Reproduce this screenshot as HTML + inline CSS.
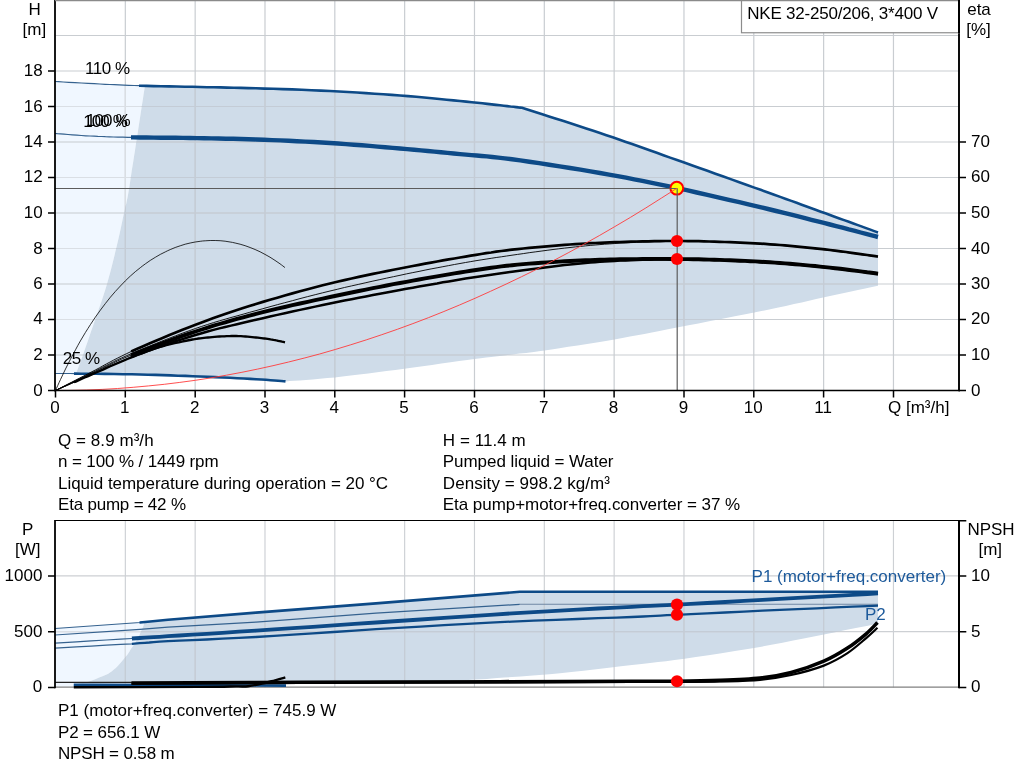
<!DOCTYPE html>
<html lang="en">
<head>
<meta charset="utf-8">
<title>NKE 32-250/206 pump curve</title>
<style>
html,body{margin:0;padding:0;background:#fff;}
body{width:1024px;height:781px;position:relative;overflow:hidden;font-family:"Liberation Sans",Arial,Helvetica,sans-serif;}
.t{position:absolute;white-space:nowrap;font-size:17px;line-height:20px;color:#000;}
</style>
</head>
<body>
<svg width="1024" height="781" viewBox="0 0 1024 781" style="position:absolute;left:0;top:0">
<rect width="1024" height="781" fill="#fff"/>
<defs><clipPath id="cl1"><path d="M55 81.5 L58.5 81.7 L63.2 82 L68.8 82.3 L75 82.6 L81.5 83 L88 83.4 L94.3 83.7 L100 84 L105.1 84.3 L109.9 84.5 L114.5 84.7 L119.1 84.9 L123.8 85.1 L128.7 85.3 L134.1 85.5 L140 85.7 L145 85.8 L145 85.8 L144.6 88.2 L144.1 91.3 L143.5 95.1 L142.9 99.2 L142.2 103.6 L141.5 108 L140.8 112.5 L140.1 117.3 L139.3 122.4 L138.5 127.5 L137.8 132.6 L137 137.5 L136.2 142.3 L135.5 147.1 L134.8 151.8 L134 156.5 L133.3 161.2 L132.5 166 L131.7 170.9 L131 176 L130.2 181.2 L129.5 186.1 L128.7 190.8 L128 195 L127.3 198.5 L126.7 201.3 L126.2 203.8 L125.5 206.4 L124.8 209.3 L124 213 L123 217.4 L122 222.4 L120.9 227.7 L119.7 233.3 L118.4 239.1 L117 245 L115.5 251.1 L114 257.6 L112.3 264.2 L110.6 271 L108.8 277.6 L107 284 L105.1 290.2 L103.1 296.4 L101.1 302.4 L99 308.4 L97 314.3 L95 320 L93.1 325.7 L91.1 331.3 L89.2 336.9 L87.4 342.3 L85.6 347.3 L84 352 L82.4 356.5 L80.8 360.8 L79.3 364.8 L78 368.4 L76.8 371.4 L76 373.6 L76 373.6 L75 373.6 L70.2 373.5 L66.4 373.5 L63.3 373.5 L60.9 373.5 L59.1 373.5 L57.5 373.5 L56.2 373.5 L55 373.5Z"/></clipPath><clipPath id="cd1"><path d="M76 373.6 L76.8 371.4 L78 368.4 L79.3 364.8 L80.8 360.8 L82.4 356.5 L84 352 L85.6 347.3 L87.4 342.3 L89.2 336.9 L91.1 331.3 L93.1 325.7 L95 320 L97 314.3 L99 308.4 L101.1 302.4 L103.1 296.4 L105.1 290.2 L107 284 L108.8 277.6 L110.6 271 L112.3 264.2 L114 257.6 L115.5 251.1 L117 245 L118.4 239.1 L119.7 233.3 L120.9 227.7 L122 222.4 L123 217.4 L124 213 L124.8 209.3 L125.5 206.4 L126.2 203.8 L126.7 201.3 L127.3 198.5 L128 195 L128.7 190.8 L129.5 186.1 L130.2 181.2 L131 176 L131.7 170.9 L132.5 166 L133.3 161.2 L134 156.5 L134.8 151.8 L135.5 147.1 L136.2 142.3 L137 137.5 L137.8 132.6 L138.5 127.5 L139.3 122.4 L140.1 117.3 L140.8 112.5 L141.5 108 L142.2 103.6 L142.9 99.2 L143.5 95.1 L144.1 91.3 L144.6 88.2 L145 85.8 L145 85.8 L146.6 85.9 L153.7 86.1 L161.2 86.2 L169 86.4 L176.9 86.5 L184.8 86.7 L192.6 86.8 L200 87 L207.1 87.2 L213.9 87.3 L220.5 87.4 L227.1 87.6 L233.9 87.7 L240.8 87.9 L248.2 88.1 L256 88.3 L264.4 88.6 L273.3 88.8 L282.6 89.1 L292.1 89.4 L301.8 89.8 L311.4 90.2 L320.8 90.6 L330 91 L339 91.5 L348 92 L357 92.5 L365.9 93.1 L374.7 93.7 L383.3 94.3 L391.8 94.9 L400 95.5 L408.1 96.1 L416.2 96.8 L424.1 97.5 L431.9 98.3 L439.4 99 L446.6 99.7 L453.5 100.4 L460 101 L466.1 101.6 L471.8 102.2 L477.3 102.8 L482.4 103.3 L487.2 103.9 L491.7 104.4 L496 104.9 L500 105.3 L503.8 105.7 L507.3 106.1 L510.5 106.5 L513.5 106.8 L516.2 107.1 L518.5 107.4 L520.4 107.6 L522 107.8 L525.8 109 L530.5 110.5 L536 112.3 L542.3 114.3 L549 116.4 L556.2 118.7 L563.6 121.1 L571.2 123.5 L578.7 126 L586.2 128.4 L593.3 130.8 L600 133 L606.4 135.2 L612.7 137.3 L619 139.5 L625.2 141.7 L631.4 143.8 L637.7 146 L644 148.3 L650.3 150.5 L656.8 152.8 L663.4 155.2 L670.1 157.6 L677 160 L684.2 162.5 L691.7 165.2 L699.4 168 L707.4 170.8 L715.4 173.7 L723.4 176.5 L731.4 179.4 L739.3 182.2 L747 184.9 L754.3 187.6 L761.4 190.1 L768 192.5 L774.2 194.7 L780.2 196.9 L785.9 198.9 L791.3 200.9 L796.6 202.8 L801.7 204.7 L806.6 206.5 L811.4 208.2 L816.2 210 L820.8 211.7 L825.4 213.3 L830 215 L834.6 216.7 L839.4 218.4 L844.1 220.1 L848.8 221.8 L853.4 223.5 L857.9 225.1 L862.1 226.6 L866.1 228.1 L869.7 229.4 L872.9 230.6 L875.7 231.6 L878 232.4 L878 285.7 L878 285.7 L874.4 286.5 L869.7 287.5 L864.1 288.7 L857.9 290 L851.1 291.4 L844.1 292.9 L837 294.5 L830 296 L823.1 297.5 L816.2 299.1 L809 300.7 L801.7 302.4 L794 304.1 L785.9 305.9 L777.2 307.8 L768 309.7 L757.8 311.8 L746.6 314 L734.8 316.3 L722.5 318.7 L710.3 321.1 L698.4 323.4 L687.2 325.5 L677 327.5 L667.9 329.3 L659.5 330.9 L651.8 332.4 L644.4 333.9 L637.2 335.3 L629.9 336.6 L622.4 338 L614.4 339.4 L605.8 340.9 L596.6 342.4 L587.1 343.9 L577.6 345.4 L568.3 346.8 L559.5 348.2 L551.5 349.4 L544.5 350.4 L538.7 351.2 L533.9 351.9 L529.8 352.4 L526.2 352.9 L522.9 353.2 L519.6 353.6 L516.1 354 L512 354.5 L507.8 355 L503.7 355.5 L499.7 355.9 L495.5 356.4 L491.1 356.9 L486.2 357.5 L480.7 358.2 L474.4 359 L467.2 360 L459.1 361.1 L450.5 362.3 L441.3 363.6 L432 365 L422.6 366.3 L413.3 367.6 L404.3 368.8 L395.4 370 L386.4 371.1 L377.2 372.3 L368.2 373.5 L359.2 374.6 L350.6 375.6 L342.4 376.6 L334.7 377.4 L327.3 378.1 L319.9 378.8 L312.8 379.4 L306 379.9 L299.8 380.4 L294.3 380.8 L289.6 381.1 L286 381.4 L286 381.4 L283.9 381.2 L281.2 381 L278.1 380.8 L274.5 380.5 L270.5 380.2 L266 379.8 L261.2 379.5 L256 379.2 L250.3 378.9 L243.9 378.5 L237.1 378.2 L229.9 377.8 L222.4 377.5 L214.9 377.1 L207.4 376.8 L200 376.5 L192.7 376.2 L185.4 375.9 L178 375.7 L170.6 375.4 L163 375.1 L155.4 374.9 L147.8 374.7 L140 374.5 L131.8 374.3 L123 374.2 L114 374 L105 373.9 L96.3 373.8 L88.2 373.7 L81 373.7 L76 373.6Z"/></clipPath></defs>
<path d="M55 81.5 L58.5 81.7 L63.2 82 L68.8 82.3 L75 82.6 L81.5 83 L88 83.4 L94.3 83.7 L100 84 L105.1 84.3 L109.9 84.5 L114.5 84.7 L119.1 84.9 L123.8 85.1 L128.7 85.3 L134.1 85.5 L140 85.7 L145 85.8 L145 85.8 L144.6 88.2 L144.1 91.3 L143.5 95.1 L142.9 99.2 L142.2 103.6 L141.5 108 L140.8 112.5 L140.1 117.3 L139.3 122.4 L138.5 127.5 L137.8 132.6 L137 137.5 L136.2 142.3 L135.5 147.1 L134.8 151.8 L134 156.5 L133.3 161.2 L132.5 166 L131.7 170.9 L131 176 L130.2 181.2 L129.5 186.1 L128.7 190.8 L128 195 L127.3 198.5 L126.7 201.3 L126.2 203.8 L125.5 206.4 L124.8 209.3 L124 213 L123 217.4 L122 222.4 L120.9 227.7 L119.7 233.3 L118.4 239.1 L117 245 L115.5 251.1 L114 257.6 L112.3 264.2 L110.6 271 L108.8 277.6 L107 284 L105.1 290.2 L103.1 296.4 L101.1 302.4 L99 308.4 L97 314.3 L95 320 L93.1 325.7 L91.1 331.3 L89.2 336.9 L87.4 342.3 L85.6 347.3 L84 352 L82.4 356.5 L80.8 360.8 L79.3 364.8 L78 368.4 L76.8 371.4 L76 373.6 L76 373.6 L75 373.6 L70.2 373.5 L66.4 373.5 L63.3 373.5 L60.9 373.5 L59.1 373.5 L57.5 373.5 L56.2 373.5 L55 373.5Z" fill="#f0f7ff"/>
<path d="M76 373.6 L76.8 371.4 L78 368.4 L79.3 364.8 L80.8 360.8 L82.4 356.5 L84 352 L85.6 347.3 L87.4 342.3 L89.2 336.9 L91.1 331.3 L93.1 325.7 L95 320 L97 314.3 L99 308.4 L101.1 302.4 L103.1 296.4 L105.1 290.2 L107 284 L108.8 277.6 L110.6 271 L112.3 264.2 L114 257.6 L115.5 251.1 L117 245 L118.4 239.1 L119.7 233.3 L120.9 227.7 L122 222.4 L123 217.4 L124 213 L124.8 209.3 L125.5 206.4 L126.2 203.8 L126.7 201.3 L127.3 198.5 L128 195 L128.7 190.8 L129.5 186.1 L130.2 181.2 L131 176 L131.7 170.9 L132.5 166 L133.3 161.2 L134 156.5 L134.8 151.8 L135.5 147.1 L136.2 142.3 L137 137.5 L137.8 132.6 L138.5 127.5 L139.3 122.4 L140.1 117.3 L140.8 112.5 L141.5 108 L142.2 103.6 L142.9 99.2 L143.5 95.1 L144.1 91.3 L144.6 88.2 L145 85.8 L145 85.8 L146.6 85.9 L153.7 86.1 L161.2 86.2 L169 86.4 L176.9 86.5 L184.8 86.7 L192.6 86.8 L200 87 L207.1 87.2 L213.9 87.3 L220.5 87.4 L227.1 87.6 L233.9 87.7 L240.8 87.9 L248.2 88.1 L256 88.3 L264.4 88.6 L273.3 88.8 L282.6 89.1 L292.1 89.4 L301.8 89.8 L311.4 90.2 L320.8 90.6 L330 91 L339 91.5 L348 92 L357 92.5 L365.9 93.1 L374.7 93.7 L383.3 94.3 L391.8 94.9 L400 95.5 L408.1 96.1 L416.2 96.8 L424.1 97.5 L431.9 98.3 L439.4 99 L446.6 99.7 L453.5 100.4 L460 101 L466.1 101.6 L471.8 102.2 L477.3 102.8 L482.4 103.3 L487.2 103.9 L491.7 104.4 L496 104.9 L500 105.3 L503.8 105.7 L507.3 106.1 L510.5 106.5 L513.5 106.8 L516.2 107.1 L518.5 107.4 L520.4 107.6 L522 107.8 L525.8 109 L530.5 110.5 L536 112.3 L542.3 114.3 L549 116.4 L556.2 118.7 L563.6 121.1 L571.2 123.5 L578.7 126 L586.2 128.4 L593.3 130.8 L600 133 L606.4 135.2 L612.7 137.3 L619 139.5 L625.2 141.7 L631.4 143.8 L637.7 146 L644 148.3 L650.3 150.5 L656.8 152.8 L663.4 155.2 L670.1 157.6 L677 160 L684.2 162.5 L691.7 165.2 L699.4 168 L707.4 170.8 L715.4 173.7 L723.4 176.5 L731.4 179.4 L739.3 182.2 L747 184.9 L754.3 187.6 L761.4 190.1 L768 192.5 L774.2 194.7 L780.2 196.9 L785.9 198.9 L791.3 200.9 L796.6 202.8 L801.7 204.7 L806.6 206.5 L811.4 208.2 L816.2 210 L820.8 211.7 L825.4 213.3 L830 215 L834.6 216.7 L839.4 218.4 L844.1 220.1 L848.8 221.8 L853.4 223.5 L857.9 225.1 L862.1 226.6 L866.1 228.1 L869.7 229.4 L872.9 230.6 L875.7 231.6 L878 232.4 L878 285.7 L878 285.7 L874.4 286.5 L869.7 287.5 L864.1 288.7 L857.9 290 L851.1 291.4 L844.1 292.9 L837 294.5 L830 296 L823.1 297.5 L816.2 299.1 L809 300.7 L801.7 302.4 L794 304.1 L785.9 305.9 L777.2 307.8 L768 309.7 L757.8 311.8 L746.6 314 L734.8 316.3 L722.5 318.7 L710.3 321.1 L698.4 323.4 L687.2 325.5 L677 327.5 L667.9 329.3 L659.5 330.9 L651.8 332.4 L644.4 333.9 L637.2 335.3 L629.9 336.6 L622.4 338 L614.4 339.4 L605.8 340.9 L596.6 342.4 L587.1 343.9 L577.6 345.4 L568.3 346.8 L559.5 348.2 L551.5 349.4 L544.5 350.4 L538.7 351.2 L533.9 351.9 L529.8 352.4 L526.2 352.9 L522.9 353.2 L519.6 353.6 L516.1 354 L512 354.5 L507.8 355 L503.7 355.5 L499.7 355.9 L495.5 356.4 L491.1 356.9 L486.2 357.5 L480.7 358.2 L474.4 359 L467.2 360 L459.1 361.1 L450.5 362.3 L441.3 363.6 L432 365 L422.6 366.3 L413.3 367.6 L404.3 368.8 L395.4 370 L386.4 371.1 L377.2 372.3 L368.2 373.5 L359.2 374.6 L350.6 375.6 L342.4 376.6 L334.7 377.4 L327.3 378.1 L319.9 378.8 L312.8 379.4 L306 379.9 L299.8 380.4 L294.3 380.8 L289.6 381.1 L286 381.4 L286 381.4 L283.9 381.2 L281.2 381 L278.1 380.8 L274.5 380.5 L270.5 380.2 L266 379.8 L261.2 379.5 L256 379.2 L250.3 378.9 L243.9 378.5 L237.1 378.2 L229.9 377.8 L222.4 377.5 L214.9 377.1 L207.4 376.8 L200 376.5 L192.7 376.2 L185.4 375.9 L178 375.7 L170.6 375.4 L163 375.1 L155.4 374.9 L147.8 374.7 L140 374.5 L131.8 374.3 L123 374.2 L114 374 L105 373.9 L96.3 373.8 L88.2 373.7 L81 373.7 L76 373.6Z" fill="#cfdce9"/>
<path d="M125.33 0V390.5M195.16 0V390.5M264.99 0V390.5M334.82 0V390.5M404.65 0V390.5M474.48 0V390.5M544.31 0V390.5M614.14 0V390.5M683.97 0V390.5M753.80 0V390.5M823.63 0V390.5M893.46 0V390.5M55.5 355.00H959M55.5 319.50H959M55.5 284.00H959M55.5 248.50H959M55.5 213.00H959M55.5 177.50H959M55.5 142.00H959M55.5 106.50H959M55.5 71.00H959M55.5 35.50H959" stroke="#c9cdd1" stroke-width="1.2" fill="none"/>
<path d="M125.33 0V390.5M195.16 0V390.5M264.99 0V390.5M334.82 0V390.5M404.65 0V390.5M474.48 0V390.5M544.31 0V390.5M614.14 0V390.5M683.97 0V390.5M753.80 0V390.5M823.63 0V390.5M893.46 0V390.5M55.5 355.00H959M55.5 319.50H959M55.5 284.00H959M55.5 248.50H959M55.5 213.00H959M55.5 177.50H959M55.5 142.00H959M55.5 106.50H959M55.5 71.00H959M55.5 35.50H959" stroke="#dadfe5" stroke-width="1.2" fill="none" clip-path="url(#cl1)"/>
<path d="M125.33 0V390.5M195.16 0V390.5M264.99 0V390.5M334.82 0V390.5M404.65 0V390.5M474.48 0V390.5M544.31 0V390.5M614.14 0V390.5M683.97 0V390.5M753.80 0V390.5M823.63 0V390.5M893.46 0V390.5M55.5 355.00H959M55.5 319.50H959M55.5 284.00H959M55.5 248.50H959M55.5 213.00H959M55.5 177.50H959M55.5 142.00H959M55.5 106.50H959M55.5 71.00H959M55.5 35.50H959" stroke="#c4ccd6" stroke-width="1.2" fill="none" clip-path="url(#cd1)"/>
<path d="M55 81.5 L58.5 81.7 L63.2 82 L68.8 82.3 L75 82.6 L81.5 83 L88 83.4 L94.3 83.7 L100 84 L105.1 84.3 L109.9 84.5 L114.5 84.7 L119.1 84.9 L123.8 85.1 L128.7 85.3 L134.1 85.5 L140 85.7 L142 85.8" stroke="#35628f" stroke-width="1.2" fill="none"/>
<path d="M55 133.5 L57.3 133.7 L60.4 133.9 L64 134.2 L68 134.5 L72.3 134.8 L76.8 135.2 L81.3 135.5 L85.8 135.8 L90 136 L94 136.2 L97.8 136.4 L101.6 136.5 L105.4 136.7 L109.3 136.8 L113.4 137 L117.9 137.1 L122.7 137.2 L128 137.3 L133.8 137.4 L134 137.4" stroke="#35628f" stroke-width="1.2" fill="none"/>
<path d="M55 373.5 L56.2 373.5 L57.5 373.5 L59.1 373.5 L60.9 373.5 L63.3 373.5 L66.4 373.5 L70.2 373.5 L75 373.6 L78 373.6" stroke="#35628f" stroke-width="1.2" fill="none"/>
<path d="M139 85.7 L140 85.7 L146.6 85.9 L153.7 86.1 L161.2 86.2 L169 86.4 L176.9 86.5 L184.8 86.7 L192.6 86.8 L200 87 L207.1 87.2 L213.9 87.3 L220.5 87.4 L227.1 87.6 L233.9 87.7 L240.8 87.9 L248.2 88.1 L256 88.3 L264.4 88.6 L273.3 88.8 L282.6 89.1 L292.1 89.4 L301.8 89.8 L311.4 90.2 L320.8 90.6 L330 91 L339 91.5 L348 92 L357 92.5 L365.9 93.1 L374.7 93.7 L383.3 94.3 L391.8 94.9 L400 95.5 L408.1 96.1 L416.2 96.8 L424.1 97.5 L431.9 98.3 L439.4 99 L446.6 99.7 L453.5 100.4 L460 101 L466.1 101.6 L471.8 102.2 L477.3 102.8 L482.4 103.3 L487.2 103.9 L491.7 104.4 L496 104.9 L500 105.3 L503.8 105.7 L507.3 106.1 L510.5 106.5 L513.5 106.8 L516.2 107.1 L518.5 107.4 L520.4 107.6 L522 107.8 L525.8 109 L530.5 110.5 L536 112.3 L542.3 114.3 L549 116.4 L556.2 118.7 L563.6 121.1 L571.2 123.5 L578.7 126 L586.2 128.4 L593.3 130.8 L600 133 L606.4 135.2 L612.7 137.3 L619 139.5 L625.2 141.7 L631.4 143.8 L637.7 146 L644 148.3 L650.3 150.5 L656.8 152.8 L663.4 155.2 L670.1 157.6 L677 160 L684.2 162.5 L691.7 165.2 L699.4 168 L707.4 170.8 L715.4 173.7 L723.4 176.5 L731.4 179.4 L739.3 182.2 L747 184.9 L754.3 187.6 L761.4 190.1 L768 192.5 L774.2 194.7 L780.2 196.9 L785.9 198.9 L791.3 200.9 L796.6 202.8 L801.7 204.7 L806.6 206.5 L811.4 208.2 L816.2 210 L820.8 211.7 L825.4 213.3 L830 215 L834.6 216.7 L839.4 218.4 L844.1 220.1 L848.8 221.8 L853.4 223.5 L857.9 225.1 L862.1 226.6 L866.1 228.1 L869.7 229.4 L872.9 230.6 L875.7 231.6 L878 232.4" stroke="#0d4a87" stroke-width="2.6" fill="none" stroke-linejoin="round"/>
<path d="M131 137.4 L133.8 137.4 L140.1 137.5 L146.7 137.5 L153.7 137.6 L160.9 137.7 L168.1 137.7 L175.5 137.8 L182.8 137.9 L190 138 L197.1 138.1 L204.2 138.2 L211.4 138.4 L218.6 138.5 L225.9 138.7 L233.3 138.8 L240.7 139 L248.3 139.2 L256 139.5 L263.9 139.8 L272 140.1 L280.2 140.4 L288.6 140.8 L296.9 141.2 L305.3 141.6 L313.7 142 L321.9 142.5 L330 143 L338 143.5 L346 144.1 L354 144.7 L361.9 145.3 L369.8 145.9 L377.6 146.6 L385.2 147.2 L392.7 147.9 L400 148.5 L407.1 149.1 L414.2 149.7 L421 150.4 L427.8 151 L434.4 151.6 L441 152.3 L447.4 152.9 L453.7 153.5 L460 154.1 L465.9 154.6 L471.4 155.1 L476.6 155.5 L481.7 156 L486.9 156.4 L492.3 157 L498.2 157.6 L504.7 158.4 L512 159.3 L520.3 160.4 L529.3 161.7 L539.1 163.2 L549.2 164.7 L559.7 166.3 L570.1 168 L580.5 169.7 L590.5 171.4 L600 173 L609 174.6 L617.6 176.2 L626 177.7 L634.2 179.3 L642.4 180.9 L650.7 182.6 L659.2 184.3 L667.9 186.2 L677 188.1 L686.7 190.2 L696.8 192.5 L707.4 194.8 L718.1 197.3 L728.8 199.8 L739.3 202.2 L749.5 204.6 L759.1 206.9 L768 209 L776.2 211 L784 212.9 L791.3 214.7 L798.3 216.4 L805 218.1 L811.4 219.8 L817.7 221.4 L823.9 222.9 L830 224.5 L836.2 226.1 L842.5 227.7 L848.8 229.4 L854.9 230.9 L860.7 232.5 L866.1 233.9 L870.8 235.1 L874.9 236.2 L878 237" stroke="#0d4a87" stroke-width="4.4" fill="none" stroke-linejoin="round"/>
<path d="M74 373.6 L75 373.6 L81 373.7 L88.2 373.7 L96.3 373.8 L105 373.9 L114 374 L123 374.2 L131.8 374.3 L140 374.5 L147.8 374.7 L155.4 374.9 L163 375.1 L170.6 375.4 L178 375.7 L185.4 375.9 L192.7 376.2 L200 376.5 L207.4 376.8 L214.9 377.1 L222.4 377.5 L229.9 377.8 L237.1 378.2 L243.9 378.5 L250.3 378.9 L256 379.2 L261.2 379.5 L266 379.8 L270.5 380.2 L274.5 380.5 L278.1 380.8 L281.2 381 L283.9 381.2 L285.5 381.4" stroke="#0d4a87" stroke-width="2.6" fill="none" stroke-linejoin="round"/>
<circle cx="676.8" cy="188.2" r="6.4" fill="#ffff00" stroke="#ff0000" stroke-width="2"/>
<path d="M55 188.5H677" stroke="#5c5c5c" stroke-width="1" fill="none"/>
<path d="M677.2 188.2V390.5" stroke="#5c5c5c" stroke-width="1.2" fill="none"/>
<path d="M55.5 390.5 C56.3 388.7 58.8 383.1 60.5 379.5 C62.2 375.9 63.8 372.4 65.5 369 C67.1 365.7 68.8 362.4 70.5 359.1 C72.1 355.9 73.8 352.8 75.5 349.8 C77.1 346.7 78.8 343.8 80.4 340.9 C82.1 338 83.8 335.2 85.4 332.5 C87.1 329.8 88.8 327.1 90.4 324.6 C92.1 322 93.8 319.5 95.4 317.1 C97.1 314.7 98.7 312.4 100.4 310.1 C102.1 307.8 103.7 305.6 105.4 303.5 C107.1 301.3 108.7 299.2 110.4 297.2 C112 295.2 113.7 293.3 115.4 291.4 C117 289.5 118.7 287.7 120.4 286 C122 284.2 123.7 282.5 125.3 280.9 C127 279.2 128.7 277.7 130.3 276.1 C132 274.6 133.7 273.1 135.3 271.7 C137 270.3 138.7 269 140.3 267.7 C142 266.3 143.6 265.1 145.3 263.9 C147 262.7 148.6 261.5 150.3 260.4 C152 259.3 153.6 258.3 155.3 257.3 C156.9 256.3 158.6 255.3 160.3 254.4 C161.9 253.5 163.6 252.7 165.3 251.9 C166.9 251 168.6 250.3 170.2 249.6 C171.9 248.8 173.6 248.2 175.2 247.5 C176.9 246.9 178.6 246.3 180.2 245.8 C181.9 245.2 183.6 244.7 185.2 244.2 C186.9 243.8 188.5 243.4 190.2 243 C191.9 242.6 193.5 242.3 195.2 242 C196.9 241.7 198.5 241.5 200.2 241.3 C201.8 241 203.5 240.9 205.2 240.8 C206.8 240.6 208.5 240.5 210.2 240.5 C211.8 240.5 213.5 240.5 215.2 240.5 C216.8 240.5 218.5 240.6 220.1 240.7 C221.8 240.9 223.5 241 225.1 241.2 C226.8 241.4 228.5 241.7 230.1 242 C231.8 242.2 233.4 242.6 235.1 243 C236.8 243.3 238.4 243.7 240.1 244.2 C241.8 244.6 243.4 245.1 245.1 245.7 C246.8 246.2 248.4 246.8 250.1 247.5 C251.7 248.1 253.4 248.8 255.1 249.5 C256.7 250.2 258.4 251 260.1 251.8 C261.7 252.6 263.4 253.5 265 254.4 C266.7 255.3 268.4 256.2 270 257.2 C271.7 258.2 273.4 259.3 275 260.4 C276.7 261.5 278.3 262.6 280 263.8 C281.7 265 284.2 267 285 267.6" stroke="#000" stroke-width="0.8" fill="none"/>
<path d="M55.5 390.5 L57.7 389.5 L60.5 388.3 L63.8 386.8 L67.5 385.2 L71.5 383.4 L75.7 381.6 L79.9 379.7 L84.1 377.8 L88.2 376.1 L92 374.4 L95.6 372.8 L99.3 371.2 L103 369.6 L106.6 367.9 L110.3 366.3 L113.9 364.7 L117.5 363.2 L121.1 361.7 L124.6 360.2 L128 358.8 L131.4 357.4 L134.7 356.1 L138 354.8 L141.2 353.6 L144.4 352.4 L147.5 351.2 L150.7 350.1 L153.8 349 L156.9 348 L160 347 L163.1 346.1 L166.3 345.2 L169.5 344.4 L172.6 343.6 L175.8 342.9 L178.8 342.3 L181.8 341.6 L184.7 341 L187.4 340.5 L190 340 L192.4 339.5 L194.6 339.2 L196.6 338.8 L198.5 338.5 L200.4 338.3 L202.2 338.1 L204 337.9 L205.9 337.7 L207.9 337.5 L210 337.3 L212.2 337.1 L214.6 336.9 L217 336.7 L219.4 336.5 L221.9 336.4 L224.4 336.3 L226.8 336.1 L229.3 336.1 L231.7 336 L234 336 L236.3 336 L238.6 336.1 L240.9 336.2 L243.2 336.4 L245.5 336.5 L247.7 336.7 L249.9 336.9 L252 337.1 L254.1 337.3 L256 337.5 L257.9 337.7 L259.6 337.9 L261.3 338.1 L263 338.3 L264.6 338.5 L266.1 338.7 L267.6 338.9 L269.1 339.1 L270.5 339.4 L272 339.6 L273.5 339.9 L275 340.1 L276.5 340.5 L278 340.8 L279.5 341.1 L280.9 341.4 L282.1 341.7 L283.3 341.9 L284.2 342.1 L285 342.3" stroke="#000" stroke-width="0.9" fill="none"/>
<path d="M74 382.3 L75.7 381.6 L79.9 379.7 L84.1 377.8 L88.2 376.1 L92 374.4 L95.6 372.8 L99.3 371.2 L103 369.6 L106.6 367.9 L110.3 366.3 L113.9 364.7 L117.5 363.2 L121.1 361.7 L124.6 360.2 L128 358.8 L131.4 357.4 L134.7 356.1 L138 354.8 L141.2 353.6 L144.4 352.4 L147.5 351.2 L150.7 350.1 L153.8 349 L156.9 348 L160 347 L163.1 346.1 L166.3 345.2 L169.5 344.4 L172.6 343.6 L175.8 342.9 L178.8 342.3 L181.8 341.6 L184.7 341 L187.4 340.5 L190 340 L192.4 339.5 L194.6 339.2 L196.6 338.8 L198.5 338.5 L200.4 338.3 L202.2 338.1 L204 337.9 L205.9 337.7 L207.9 337.5 L210 337.3 L212.2 337.1 L214.6 336.9 L217 336.7 L219.4 336.5 L221.9 336.4 L224.4 336.3 L226.8 336.1 L229.3 336.1 L231.7 336 L234 336 L236.3 336 L238.6 336.1 L240.9 336.2 L243.2 336.4 L245.5 336.5 L247.7 336.7 L249.9 336.9 L252 337.1 L254.1 337.3 L256 337.5 L257.9 337.7 L259.6 337.9 L261.3 338.1 L263 338.3 L264.6 338.5 L266.1 338.7 L267.6 338.9 L269.1 339.1 L270.5 339.4 L272 339.6 L273.5 339.9 L275 340.1 L276.5 340.5 L278 340.8 L279.5 341.1 L280.9 341.4 L282.1 341.7 L283.3 341.9 L284.2 342.1 L285 342.3" stroke="#000" stroke-width="2.3" fill="none"/>
<path d="M55.5 390.5 L57.7 389.4 L60.4 388 L63.7 386.3 L67.3 384.4 L71.3 382.4 L75.5 380.2 L79.7 378 L83.9 375.9 L88.1 373.7 L92 371.7 L95.7 369.8 L99.3 367.9 L102.8 365.9 L106.3 364 L109.9 362.1 L113.6 360.1 L117.6 358.1 L121.8 356 L126.3 353.8 L131.2 351.5 L136.7 349.1 L142.6 346.5 L148.8 343.8 L155.3 341 L162 338.2 L168.9 335.3 L175.7 332.5 L182.5 329.8 L189.1 327.2 L195.5 324.8 L201.6 322.4 L207.6 320.2 L213.5 318.1 L219.3 316 L225.1 314 L231 312 L237 310 L243.1 308 L249.4 306 L256 304 L262.9 301.9 L270 299.8 L277.3 297.7 L284.8 295.5 L292.4 293.4 L300 291.3 L307.7 289.2 L315.2 287.2 L322.7 285.3 L330 283.5 L337.2 281.8 L344.4 280.1 L351.6 278.5 L358.8 276.9 L365.9 275.4 L372.9 273.9 L379.9 272.5 L386.7 271.2 L393.4 269.8 L400 268.5 L406.4 267.2 L412.8 266 L419 264.8 L425.1 263.7 L431.1 262.6 L437.1 261.5 L442.9 260.4 L448.7 259.4 L454.4 258.5 L460 257.5 L465.5 256.6 L470.8 255.7 L476 254.8 L481.1 254 L486.1 253.2 L491.2 252.5 L496.2 251.7 L501.3 251 L506.6 250.4 L512 249.7 L517.6 249.1 L523.3 248.5 L529.2 247.9 L535.2 247.3 L541.1 246.8 L547.1 246.3 L553 245.8 L558.8 245.3 L564.5 244.9 L570 244.5 L575.3 244.1 L580.4 243.8 L585.4 243.5 L590.2 243.2 L595.1 243 L599.9 242.8 L604.7 242.6 L609.7 242.4 L614.8 242.2 L620 242 L625.4 241.8 L631 241.7 L636.7 241.5 L642.5 241.4 L648.3 241.3 L654.2 241.2 L660 241.1 L665.7 241 L671.4 241 L677 241 L682.5 241 L687.9 241.1 L693.3 241.1 L698.6 241.2 L703.9 241.4 L709.2 241.5 L714.4 241.7 L719.7 241.8 L724.8 242 L730 242.2 L735.1 242.4 L740.2 242.6 L745.2 242.9 L750.2 243.1 L755.2 243.4 L760.1 243.6 L765.1 243.9 L770 244.3 L775 244.6 L780 245 L785 245.4 L790 245.8 L795.1 246.3 L800.1 246.8 L805.1 247.3 L810.1 247.8 L815.1 248.3 L820.1 248.9 L825.1 249.4 L830 250 L835.1 250.6 L840.5 251.3 L846.1 252 L851.6 252.8 L857.1 253.6 L862.4 254.3 L867.2 255 L871.5 255.6 L875.2 256.1 L878 256.5" stroke="#000" stroke-width="0.9" fill="none"/>
<path d="M55.5 390.5 L57.7 389.4 L60.4 388.1 L63.7 386.5 L67.4 384.7 L71.3 382.7 L75.5 380.7 L79.7 378.6 L84 376.5 L88.1 374.5 L92 372.6 L95.7 370.8 L99.2 369 L102.7 367.2 L106.2 365.5 L109.8 363.7 L113.4 361.8 L117.3 359.9 L121.5 358 L126.1 355.9 L131 353.8 L136.4 351.5 L142.3 349 L148.6 346.5 L155.2 343.8 L161.9 341.1 L168.8 338.4 L175.6 335.8 L182.4 333.2 L189.1 330.8 L195.5 328.5 L201.7 326.4 L207.6 324.5 L213.5 322.6 L219.3 320.9 L225.2 319.2 L231 317.5 L237 315.9 L243.1 314.2 L249.4 312.4 L256 310.6 L262.9 308.7 L270 306.7 L277.3 304.7 L284.8 302.7 L292.4 300.7 L300 298.6 L307.7 296.6 L315.2 294.7 L322.7 292.8 L330 291 L337.2 289.3 L344.4 287.5 L351.6 285.9 L358.8 284.3 L365.9 282.7 L372.9 281.1 L379.9 279.6 L386.7 278.1 L393.4 276.7 L400 275.3 L406.4 273.9 L412.8 272.6 L419 271.4 L425.1 270.1 L431.1 268.9 L437.1 267.8 L442.9 266.7 L448.7 265.6 L454.4 264.5 L460 263.5 L465.5 262.5 L470.8 261.6 L476 260.7 L481.1 259.9 L486.1 259.1 L491.2 258.3 L496.2 257.5 L501.3 256.8 L506.6 256 L512 255.2 L517.6 254.4 L523.3 253.6 L529.2 252.7 L535.2 251.9 L541.1 251.1 L547.1 250.3 L553 249.5 L558.8 248.8 L564.5 248.1 L570 247.5 L575.3 246.9 L580.4 246.4 L585.4 245.9 L590.2 245.4 L595.1 245 L599.9 244.6 L604.7 244.2 L609.7 243.9 L614.8 243.5 L620 243.2 L625.4 242.9 L631 242.6 L636.7 242.4 L642.5 242.1 L648.3 241.9 L654.2 241.7 L660 241.6 L665.7 241.5 L671.4 241.4 L677 241.3 L682.5 241.3 L687.9 241.3 L693.3 241.3 L698.6 241.4 L703.9 241.5 L709.2 241.6 L714.4 241.8 L719.7 241.9 L724.8 242.1 L730 242.3 L735.1 242.5 L740.2 242.7 L745.2 243 L750.2 243.3 L755.2 243.5 L760.1 243.9 L765.1 244.2 L770 244.5 L775 244.9 L780 245.3 L785 245.7 L790 246.2 L795.1 246.6 L800.1 247.1 L805.1 247.6 L810.1 248.2 L815.1 248.7 L820.1 249.3 L825.1 249.8 L830 250.4 L835.1 251 L840.5 251.7 L846.1 252.5 L851.6 253.2 L857.1 254 L862.4 254.8 L867.2 255.5 L871.5 256.1 L875.2 256.6 L878 257" stroke="#000" stroke-width="0.9" fill="none"/>
<path d="M55.5 390.5 L57.7 389.5 L60.4 388.2 L63.7 386.6 L67.4 384.9 L71.3 383 L75.5 381.1 L79.7 379.1 L84 377.1 L88.1 375.1 L92 373.3 L95.7 371.6 L99.2 369.8 L102.7 368.1 L106.2 366.4 L109.8 364.7 L113.4 362.9 L117.3 361.1 L121.5 359.2 L126.1 357.2 L131 355.2 L136.4 353 L142.3 350.7 L148.6 348.3 L155.2 345.8 L161.9 343.3 L168.8 340.8 L175.6 338.3 L182.4 335.9 L189.1 333.6 L195.5 331.5 L201.7 329.5 L207.6 327.6 L213.5 325.7 L219.3 324 L225.2 322.3 L231 320.6 L237 318.9 L243.1 317.3 L249.4 315.6 L256 313.9 L262.9 312.2 L270 310.4 L277.3 308.7 L284.8 307 L292.4 305.2 L300 303.5 L307.7 301.8 L315.2 300.2 L322.7 298.6 L330 297 L337.2 295.5 L344.4 294 L351.6 292.5 L358.8 291 L365.9 289.6 L372.9 288.2 L379.9 286.9 L386.7 285.5 L393.4 284.2 L400 283 L406.4 281.8 L412.8 280.6 L419 279.5 L425.1 278.4 L431.1 277.3 L437.1 276.3 L442.9 275.3 L448.7 274.3 L454.4 273.4 L460 272.5 L465.5 271.6 L470.8 270.8 L476 270 L481.1 269.2 L486.1 268.5 L491.2 267.7 L496.2 267.1 L501.3 266.4 L506.6 265.8 L512 265.2 L517.6 264.6 L523.3 264.1 L529.2 263.6 L535.2 263.2 L541.1 262.8 L547.1 262.4 L553 262 L558.8 261.6 L564.5 261.3 L570 261 L575.3 260.7 L580.4 260.5 L585.4 260.3 L590.2 260.1 L595.1 259.9 L599.9 259.8 L604.7 259.6 L609.7 259.5 L614.8 259.4 L620 259.3 L625.4 259.2 L631 259.1 L636.7 259.1 L642.5 259 L648.3 259 L654.2 258.9 L660 258.9 L665.7 258.9 L671.4 259 L677 259 L682.5 259.1 L687.9 259.1 L693.3 259.2 L698.6 259.3 L703.9 259.5 L709.2 259.6 L714.4 259.8 L719.7 259.9 L724.8 260.1 L730 260.3 L735.1 260.5 L740.2 260.7 L745.2 260.9 L750.2 261.2 L755.2 261.4 L760.1 261.7 L765.1 262 L770 262.3 L775 262.6 L780 263 L785 263.4 L790 263.8 L795.1 264.2 L800.1 264.6 L805.1 265.1 L810.1 265.6 L815.1 266 L820.1 266.6 L825.1 267.1 L830 267.6 L835.1 268.2 L840.5 268.8 L846.1 269.5 L851.6 270.2 L857.1 270.9 L862.4 271.6 L867.2 272.3 L871.5 272.8 L875.2 273.3 L878 273.7" stroke="#000" stroke-width="0.9" fill="none"/>
<path d="M55.5 390.5 L57.7 389.5 L60.4 388.3 L63.7 386.8 L67.4 385.2 L71.3 383.4 L75.5 381.6 L79.7 379.7 L84 377.8 L88.1 375.9 L92 374.2 L95.7 372.6 L99.2 370.9 L102.7 369.3 L106.2 367.7 L109.8 366.1 L113.4 364.4 L117.3 362.7 L121.5 360.9 L126.1 359.1 L131 357.2 L136.4 355.2 L142.3 353 L148.6 350.7 L155.2 348.4 L161.9 346 L168.8 343.6 L175.6 341.3 L182.4 339.1 L189.1 337 L195.5 335 L201.7 333.2 L207.6 331.5 L213.5 329.9 L219.3 328.4 L225.2 327 L231 325.6 L237 324.2 L243.1 322.8 L249.4 321.3 L256 319.8 L262.9 318.2 L270 316.5 L277.3 314.9 L284.8 313.2 L292.4 311.5 L300 309.9 L307.7 308.2 L315.2 306.6 L322.7 305 L330 303.5 L337.2 302 L344.4 300.6 L351.6 299.2 L358.8 297.8 L365.9 296.4 L372.9 295.1 L379.9 293.7 L386.7 292.5 L393.4 291.2 L400 290 L406.4 288.8 L412.8 287.7 L419 286.5 L425.1 285.4 L431.1 284.4 L437.1 283.4 L442.9 282.3 L448.7 281.4 L454.4 280.4 L460 279.5 L465.5 278.6 L470.8 277.8 L476 277 L481.1 276.2 L486.1 275.5 L491.2 274.7 L496.2 274 L501.3 273.3 L506.6 272.5 L512 271.8 L517.6 271 L523.3 270.3 L529.2 269.5 L535.2 268.7 L541.1 267.9 L547.1 267.2 L553 266.4 L558.8 265.7 L564.5 265.1 L570 264.5 L575.3 264 L580.4 263.5 L585.4 263 L590.2 262.6 L595.1 262.2 L599.9 261.8 L604.7 261.5 L609.7 261.2 L614.8 260.9 L620 260.6 L625.4 260.4 L631 260.2 L636.7 260 L642.5 259.8 L648.3 259.7 L654.2 259.6 L660 259.5 L665.7 259.4 L671.4 259.4 L677 259.4 L682.5 259.4 L687.9 259.4 L693.3 259.5 L698.6 259.6 L703.9 259.7 L709.2 259.8 L714.4 260 L719.7 260.1 L724.8 260.3 L730 260.5 L735.1 260.7 L740.2 260.9 L745.2 261.1 L750.2 261.4 L755.2 261.6 L760.1 261.9 L765.1 262.2 L770 262.5 L775 262.8 L780 263.2 L785 263.6 L790 264 L795.1 264.4 L800.1 264.8 L805.1 265.3 L810.1 265.8 L815.1 266.2 L820.1 266.8 L825.1 267.3 L830 267.8 L835.1 268.4 L840.5 269 L846.1 269.7 L851.6 270.4 L857.1 271.1 L862.4 271.8 L867.2 272.5 L871.5 273 L875.2 273.5 L878 273.9" stroke="#000" stroke-width="0.9" fill="none"/>
<path d="M131.2 351.5 L136.7 349.1 L142.6 346.5 L148.8 343.8 L155.3 341 L162 338.2 L168.9 335.3 L175.7 332.5 L182.5 329.8 L189.1 327.2 L195.5 324.8 L201.6 322.4 L207.6 320.2 L213.5 318.1 L219.3 316 L225.1 314 L231 312 L237 310 L243.1 308 L249.4 306 L256 304 L262.9 301.9 L270 299.8 L277.3 297.7 L284.8 295.5 L292.4 293.4 L300 291.3 L307.7 289.2 L315.2 287.2 L322.7 285.3 L330 283.5 L337.2 281.8 L344.4 280.1 L351.6 278.5 L358.8 276.9 L365.9 275.4 L372.9 273.9 L379.9 272.5 L386.7 271.2 L393.4 269.8 L400 268.5 L406.4 267.2 L412.8 266 L419 264.8 L425.1 263.7 L431.1 262.6 L437.1 261.5 L442.9 260.4 L448.7 259.4 L454.4 258.5 L460 257.5 L465.5 256.6 L470.8 255.7 L476 254.8 L481.1 254 L486.1 253.2 L491.2 252.5 L496.2 251.7 L501.3 251 L506.6 250.4 L512 249.7 L517.6 249.1 L523.3 248.5 L529.2 247.9 L535.2 247.3 L541.1 246.8 L547.1 246.3 L553 245.8 L558.8 245.3 L564.5 244.9 L570 244.5 L575.3 244.1 L580.4 243.8 L585.4 243.5 L590.2 243.2 L595.1 243 L599.9 242.8 L604.7 242.6 L609.7 242.4 L614.8 242.2 L620 242 L625.4 241.8 L631 241.7 L636.7 241.5 L642.5 241.4 L648.3 241.3 L654.2 241.2 L660 241.1 L665.7 241 L671.4 241 L677 241 L682.5 241 L687.9 241.1 L693.3 241.1 L698.6 241.2 L703.9 241.4 L709.2 241.5 L714.4 241.7 L719.7 241.8 L724.8 242 L730 242.2 L735.1 242.4 L740.2 242.6 L745.2 242.9 L750.2 243.1 L755.2 243.4 L760.1 243.6 L765.1 243.9 L770 244.3 L775 244.6 L780 245 L785 245.4 L790 245.8 L795.1 246.3 L800.1 246.8 L805.1 247.3 L810.1 247.8 L815.1 248.3 L820.1 248.9 L825.1 249.4 L830 250 L835.1 250.6 L840.5 251.3 L846.1 252 L851.6 252.8 L857.1 253.6 L862.4 254.3 L867.2 255 L871.5 255.6 L875.2 256.1 L878 256.5" stroke="#000" stroke-width="2.7" fill="none"/>
<path d="M131 355.2 L136.4 353 L142.3 350.7 L148.6 348.3 L155.2 345.8 L161.9 343.3 L168.8 340.8 L175.6 338.3 L182.4 335.9 L189.1 333.6 L195.5 331.5 L201.7 329.5 L207.6 327.6 L213.5 325.7 L219.3 324 L225.2 322.3 L231 320.6 L237 318.9 L243.1 317.3 L249.4 315.6 L256 313.9 L262.9 312.2 L270 310.4 L277.3 308.7 L284.8 307 L292.4 305.2 L300 303.5 L307.7 301.8 L315.2 300.2 L322.7 298.6 L330 297 L337.2 295.5 L344.4 294 L351.6 292.5 L358.8 291 L365.9 289.6 L372.9 288.2 L379.9 286.9 L386.7 285.5 L393.4 284.2 L400 283 L406.4 281.8 L412.8 280.6 L419 279.5 L425.1 278.4 L431.1 277.3 L437.1 276.3 L442.9 275.3 L448.7 274.3 L454.4 273.4 L460 272.5 L465.5 271.6 L470.8 270.8 L476 270 L481.1 269.2 L486.1 268.5 L491.2 267.7 L496.2 267.1 L501.3 266.4 L506.6 265.8 L512 265.2 L517.6 264.6 L523.3 264.1 L529.2 263.6 L535.2 263.2 L541.1 262.8 L547.1 262.4 L553 262 L558.8 261.6 L564.5 261.3 L570 261 L575.3 260.7 L580.4 260.5 L585.4 260.3 L590.2 260.1 L595.1 259.9 L599.9 259.8 L604.7 259.6 L609.7 259.5 L614.8 259.4 L620 259.3 L625.4 259.2 L631 259.1 L636.7 259.1 L642.5 259 L648.3 259 L654.2 258.9 L660 258.9 L665.7 258.9 L671.4 259 L677 259 L682.5 259.1 L687.9 259.1 L693.3 259.2 L698.6 259.3 L703.9 259.5 L709.2 259.6 L714.4 259.8 L719.7 259.9 L724.8 260.1 L730 260.3 L735.1 260.5 L740.2 260.7 L745.2 260.9 L750.2 261.2 L755.2 261.4 L760.1 261.7 L765.1 262 L770 262.3 L775 262.6 L780 263 L785 263.4 L790 263.8 L795.1 264.2 L800.1 264.6 L805.1 265.1 L810.1 265.6 L815.1 266 L820.1 266.6 L825.1 267.1 L830 267.6 L835.1 268.2 L840.5 268.8 L846.1 269.5 L851.6 270.2 L857.1 270.9 L862.4 271.6 L867.2 272.3 L871.5 272.8 L875.2 273.3 L878 273.7" stroke="#000" stroke-width="3.9" fill="none"/>
<path d="M131 357.2 L136.4 355.2 L142.3 353 L148.6 350.7 L155.2 348.4 L161.9 346 L168.8 343.6 L175.6 341.3 L182.4 339.1 L189.1 337 L195.5 335 L201.7 333.2 L207.6 331.5 L213.5 329.9 L219.3 328.4 L225.2 327 L231 325.6 L237 324.2 L243.1 322.8 L249.4 321.3 L256 319.8 L262.9 318.2 L270 316.5 L277.3 314.9 L284.8 313.2 L292.4 311.5 L300 309.9 L307.7 308.2 L315.2 306.6 L322.7 305 L330 303.5 L337.2 302 L344.4 300.6 L351.6 299.2 L358.8 297.8 L365.9 296.4 L372.9 295.1 L379.9 293.7 L386.7 292.5 L393.4 291.2 L400 290 L406.4 288.8 L412.8 287.7 L419 286.5 L425.1 285.4 L431.1 284.4 L437.1 283.4 L442.9 282.3 L448.7 281.4 L454.4 280.4 L460 279.5 L465.5 278.6 L470.8 277.8 L476 277 L481.1 276.2 L486.1 275.5 L491.2 274.7 L496.2 274 L501.3 273.3 L506.6 272.5 L512 271.8 L517.6 271 L523.3 270.3 L529.2 269.5 L535.2 268.7 L541.1 267.9 L547.1 267.2 L553 266.4 L558.8 265.7 L564.5 265.1 L570 264.5 L575.3 264 L580.4 263.5 L585.4 263 L590.2 262.6 L595.1 262.2 L599.9 261.8 L604.7 261.5 L609.7 261.2 L614.8 260.9 L620 260.6 L625.4 260.4 L631 260.2 L636.7 260 L642.5 259.8 L648.3 259.7 L654.2 259.6 L660 259.5 L665.7 259.4 L671.4 259.4 L677 259.4 L682.5 259.4 L687.9 259.4 L693.3 259.5 L698.6 259.6 L703.9 259.7 L709.2 259.8 L714.4 260 L719.7 260.1 L724.8 260.3 L730 260.5 L735.1 260.7 L740.2 260.9 L745.2 261.1 L750.2 261.4 L755.2 261.6 L760.1 261.9 L765.1 262.2 L770 262.5 L775 262.8 L780 263.2 L785 263.6 L790 264 L795.1 264.4 L800.1 264.8 L805.1 265.3 L810.1 265.8 L815.1 266.2 L820.1 266.8 L825.1 267.3 L830 267.8 L835.1 268.4 L840.5 269 L846.1 269.7 L851.6 270.4 L857.1 271.1 L862.4 271.8 L867.2 272.5 L871.5 273 L875.2 273.5 L878 273.9" stroke="#000" stroke-width="2.5" fill="none"/>
<path d="M55.5 390.5 L71 390.4 L86.6 390 L102.1 389.4 L117.6 388.5 L133.2 387.3 L148.7 385.9 L164.3 384.3 L179.8 382.4 L195.3 380.3 L210.9 377.9 L226.4 375.2 L241.9 372.3 L257.5 369.1 L273 365.7 L288.6 362 L304.1 358.1 L319.6 354 L335.2 349.5 L350.7 344.8 L366.2 339.9 L381.8 334.7 L397.3 329.3 L412.9 323.6 L428.4 317.7 L443.9 311.5 L459.5 305 L475 298.3 L490.5 291.3 L506.1 284.1 L521.6 276.7 L537.2 269 L552.7 261 L568.2 252.8 L583.8 244.3 L599.3 235.6 L614.8 226.6 L630.4 217.4 L645.9 207.9 L661.4 198.1 L677 188.2" stroke="#ff3b3b" stroke-width="0.9" fill="none"/>
<path d="M55 0V391.3" stroke="#000" stroke-width="1.8" fill="none"/>
<path d="M959 0V391.3" stroke="#000" stroke-width="1.9" fill="none"/>
<path d="M54.1 390.5H959.9" stroke="#000" stroke-width="1.6" fill="none"/>
<path d="M48 390.5H55M48 355H55M48 319.5H55M48 284H55M48 248.5H55M48 213H55M48 177.5H55M48 142H55M48 106.5H55M48 71H55M959 390.5H966M959 355H966M959 319.5H966M959 284H966M959 248.5H966M959 213H966M959 177.5H966M959 142H966M55.5 390.5V397.5M125.3 390.5V397.5M195.2 390.5V397.5M265 390.5V397.5M334.8 390.5V397.5M404.6 390.5V397.5M474.5 390.5V397.5M544.3 390.5V397.5M614.1 390.5V397.5M684 390.5V397.5M753.8 390.5V397.5M823.6 390.5V397.5M893.5 390.5V397.5" stroke="#000" stroke-width="1.5" fill="none"/>
<circle cx="677" cy="241" r="6.1" fill="#ff0000"/>
<circle cx="677" cy="259" r="6.1" fill="#ff0000"/>
<rect x="741.5" y="-2" width="217.5" height="34.75" fill="#fff" stroke="#8c8c8c" stroke-width="1.2"/>
<path d="M55 0.5H960" stroke="#8a8a8a" stroke-width="1.6" fill="none"/>
<path d="M959 0V33" stroke="#000" stroke-width="2" fill="none"/>
<defs><clipPath id="cl2"><path d="M55 628.5 L140 622.5 L144.4 622.1 L144.4 622.1 L143.6 625.6 L142.5 628.2 L141.2 631.1 L140 633.8 L138.8 636.2 L137.5 638.8 L136.2 641.1 L135 643.2 L134 644.8 L133 646.1 L132.2 647.2 L131.2 648.5 L130.3 650 L129.5 651.5 L128.5 653.1 L127.5 654.6 L126.3 656.1 L125.1 657.6 L123.8 659 L122.5 660.5 L121.3 661.9 L120.2 663.3 L118.9 664.8 L117.5 666.2 L115.8 667.9 L113.9 669.6 L111.9 671.2 L110 672.6 L108.3 673.7 L106.7 674.5 L104.9 675.3 L102.5 676.2 L99.2 677.6 L95.2 679.2 L91.2 680.7 L87.5 681.9 L84.1 682.7 L80.8 683.3 L78 683.7 L76 684 L76 686.5 L55 686.5Z"/></clipPath><clipPath id="cd2"><path d="M76 684 L78 683.7 L80.8 683.3 L84.1 682.7 L87.5 681.9 L91.2 680.7 L95.2 679.2 L99.2 677.6 L102.5 676.2 L104.9 675.3 L106.7 674.5 L108.3 673.7 L110 672.6 L111.9 671.2 L113.9 669.6 L115.8 667.9 L117.5 666.2 L118.9 664.8 L120.2 663.3 L121.3 661.9 L122.5 660.5 L123.8 659 L125.1 657.6 L126.3 656.1 L127.5 654.6 L128.5 653.1 L129.5 651.5 L130.3 650 L131.2 648.5 L132.2 647.2 L133 646.1 L134 644.8 L135 643.2 L136.2 641.1 L137.5 638.8 L138.8 636.2 L140 633.8 L141.2 631.1 L142.5 628.2 L143.6 625.6 L144.4 622.1 L144.4 622.1 L168 619.8 L256 612.6 L376 603.4 L519.8 591.8 L878 591.8 L878 623.8 L877.5 623.8 L871.8 624.9 L863.9 626.4 L854.6 628.3 L844.4 630.3 L833.9 632.4 L823.8 634.4 L813.8 636.4 L803.7 638.5 L793.2 640.6 L782.5 642.7 L771.4 644.8 L760 646.9 L747.8 649 L734.9 651.1 L721.5 653.2 L708.4 655.2 L695.9 657.1 L684.5 658.8 L674.6 660.1 L666 661.2 L658 662.1 L650.1 663 L641.6 663.9 L632 665 L620.9 666.3 L608.9 667.8 L596.2 669.3 L583.5 670.8 L571.3 672.1 L560 673.3 L549.5 674.3 L539.4 675.1 L529.8 675.8 L520.6 676.5 L512 677 L504 677.6 L497.2 678.1 L491.7 678.5 L486.8 678.9 L481.6 679.3 L475.6 679.6 L468 680 L458.5 680.4 L447.8 680.8 L436.1 681.2 L424 681.5 L411.8 681.9 L400 682.2 L388.1 682.5 L375.9 682.8 L363.5 683 L351.5 683.2 L340.2 683.4 L330 683.6 L320.7 683.8 L311.8 683.9 L303.6 684 L296.4 684.1 L290.5 684.1 L286 684.2 L286 686 L76 686Z"/></clipPath></defs>
<path d="M55 628.5 L140 622.5 L144.4 622.1 L144.4 622.1 L143.6 625.6 L142.5 628.2 L141.2 631.1 L140 633.8 L138.8 636.2 L137.5 638.8 L136.2 641.1 L135 643.2 L134 644.8 L133 646.1 L132.2 647.2 L131.2 648.5 L130.3 650 L129.5 651.5 L128.5 653.1 L127.5 654.6 L126.3 656.1 L125.1 657.6 L123.8 659 L122.5 660.5 L121.3 661.9 L120.2 663.3 L118.9 664.8 L117.5 666.2 L115.8 667.9 L113.9 669.6 L111.9 671.2 L110 672.6 L108.3 673.7 L106.7 674.5 L104.9 675.3 L102.5 676.2 L99.2 677.6 L95.2 679.2 L91.2 680.7 L87.5 681.9 L84.1 682.7 L80.8 683.3 L78 683.7 L76 684 L76 686.5 L55 686.5Z" fill="#f0f7ff"/>
<path d="M76 684 L78 683.7 L80.8 683.3 L84.1 682.7 L87.5 681.9 L91.2 680.7 L95.2 679.2 L99.2 677.6 L102.5 676.2 L104.9 675.3 L106.7 674.5 L108.3 673.7 L110 672.6 L111.9 671.2 L113.9 669.6 L115.8 667.9 L117.5 666.2 L118.9 664.8 L120.2 663.3 L121.3 661.9 L122.5 660.5 L123.8 659 L125.1 657.6 L126.3 656.1 L127.5 654.6 L128.5 653.1 L129.5 651.5 L130.3 650 L131.2 648.5 L132.2 647.2 L133 646.1 L134 644.8 L135 643.2 L136.2 641.1 L137.5 638.8 L138.8 636.2 L140 633.8 L141.2 631.1 L142.5 628.2 L143.6 625.6 L144.4 622.1 L144.4 622.1 L168 619.8 L256 612.6 L376 603.4 L519.8 591.8 L878 591.8 L878 623.8 L877.5 623.8 L871.8 624.9 L863.9 626.4 L854.6 628.3 L844.4 630.3 L833.9 632.4 L823.8 634.4 L813.8 636.4 L803.7 638.5 L793.2 640.6 L782.5 642.7 L771.4 644.8 L760 646.9 L747.8 649 L734.9 651.1 L721.5 653.2 L708.4 655.2 L695.9 657.1 L684.5 658.8 L674.6 660.1 L666 661.2 L658 662.1 L650.1 663 L641.6 663.9 L632 665 L620.9 666.3 L608.9 667.8 L596.2 669.3 L583.5 670.8 L571.3 672.1 L560 673.3 L549.5 674.3 L539.4 675.1 L529.8 675.8 L520.6 676.5 L512 677 L504 677.6 L497.2 678.1 L491.7 678.5 L486.8 678.9 L481.6 679.3 L475.6 679.6 L468 680 L458.5 680.4 L447.8 680.8 L436.1 681.2 L424 681.5 L411.8 681.9 L400 682.2 L388.1 682.5 L375.9 682.8 L363.5 683 L351.5 683.2 L340.2 683.4 L330 683.6 L320.7 683.8 L311.8 683.9 L303.6 684 L296.4 684.1 L290.5 684.1 L286 684.2 L286 686 L76 686Z" fill="#cfdce9"/>
<path d="M125.33 520.5V687.4M195.16 520.5V687.4M264.99 520.5V687.4M334.82 520.5V687.4M404.65 520.5V687.4M474.48 520.5V687.4M544.31 520.5V687.4M614.14 520.5V687.4M683.97 520.5V687.4M753.80 520.5V687.4M823.63 520.5V687.4M893.46 520.5V687.4M55.5 575.9H959M55.5 631.6H959" stroke="#cdd0d4" stroke-width="1.15" fill="none"/>
<path d="M125.33 520.5V687.4M195.16 520.5V687.4M264.99 520.5V687.4M334.82 520.5V687.4M404.65 520.5V687.4M474.48 520.5V687.4M544.31 520.5V687.4M614.14 520.5V687.4M683.97 520.5V687.4M753.80 520.5V687.4M823.63 520.5V687.4M893.46 520.5V687.4M55.5 575.9H959M55.5 631.6H959" stroke="#dadfe5" stroke-width="1.15" fill="none" clip-path="url(#cl2)"/>
<path d="M125.33 520.5V687.4M195.16 520.5V687.4M264.99 520.5V687.4M334.82 520.5V687.4M404.65 520.5V687.4M474.48 520.5V687.4M544.31 520.5V687.4M614.14 520.5V687.4M683.97 520.5V687.4M753.80 520.5V687.4M823.63 520.5V687.4M893.46 520.5V687.4M55.5 575.9H959M55.5 631.6H959" stroke="#c4ccd6" stroke-width="1.15" fill="none" clip-path="url(#cd2)"/>
<path d="M55 687.2H959" stroke="#808080" stroke-width="1.2" fill="none"/>
<path d="M55 628.5 L140 622.5 L142 622.3" stroke="#35628f" stroke-width="1.2" fill="none"/>
<path d="M55 635 L140 629.4 L168 627.2 L256 622.1 L376 613.2 L519.8 604.3" stroke="#35628f" stroke-width="1.2" fill="none"/>
<path d="M519.8 604.3 L878 604.3" stroke="#6f87a3" stroke-width="1.1" fill="none"/>
<path d="M55 643.1 L63.8 642.6 L76.4 641.8 L91.2 640.9 L106.4 640 L120.6 639.2 L131.9 638.5 L134 638.4" stroke="#35628f" stroke-width="1.2" fill="none"/>
<path d="M55 648.1 L63.8 647.6 L76.4 646.9 L91.2 646.1 L106.4 645.2 L120.6 644.4 L131.9 643.8 L134 643.6" stroke="#35628f" stroke-width="1.2" fill="none"/>
<path d="M139.5 622.5 L140 622.5 L168 619.8 L256 612.6 L376 603.4 L519.8 591.8 L878 591.8" stroke="#0d4a87" stroke-width="2.6" fill="none" stroke-linejoin="round"/>
<path d="M131.9 638.5 L139.7 638 L145 637.7 L149.3 637.4 L153.6 637.2 L159.5 636.8 L168 636.2 L179.3 635.5 L192.3 634.7 L206.8 633.8 L222.4 632.8 L238.9 631.7 L256 630.6 L274 629.4 L293 628.1 L313 626.8 L333.6 625.4 L354.7 623.9 L376 622.5 L397.9 621 L420.7 619.5 L444 617.9 L467.3 616.3 L490.1 614.8 L512 613.4 L533.8 612.1 L556 610.8 L577.7 609.6 L598.1 608.5 L616.5 607.6 L632 606.8 L643.2 606.2 L650.4 605.8 L655.6 605.6 L660.5 605.4 L667 605.1 L677 604.6 L690.9 603.9 L707.2 603 L725.2 602 L743.9 600.9 L762.5 599.9 L780 598.9 L797.8 597.9 L816.7 596.8 L835.4 595.8 L852.8 594.8 L867.4 594 L878 593.4" stroke="#0d4a87" stroke-width="3.8" fill="none"/>
<path d="M131.9 643.8 L139.7 643.2 L145 642.8 L149.3 642.5 L153.6 642.1 L159.5 641.7 L168 641.2 L179.3 640.7 L192.3 640.1 L206.8 639.5 L222.4 638.7 L238.9 637.9 L256 637 L274 635.9 L293 634.7 L313 633.3 L333.6 632 L354.7 630.6 L376 629.2 L397.9 627.9 L420.7 626.6 L444 625.2 L467.3 623.9 L490.1 622.7 L512 621.6 L533.8 620.6 L556 619.8 L577.7 619 L598.1 618.2 L616.5 617.6 L632 617 L643.2 616.5 L650.4 616.2 L655.6 615.9 L660.5 615.6 L667 615.2 L677 614.8 L690.9 614.1 L707.2 613.3 L725.2 612.5 L743.9 611.6 L762.5 610.7 L780 609.9 L797.8 609.1 L816.7 608.3 L835.4 607.4 L852.8 606.7 L867.4 606.1 L878 605.6" stroke="#0d4a87" stroke-width="2.3" fill="none"/>
<path d="M73.75 684.9L131 685.1L286 685.6" stroke="#0d4a87" stroke-width="2.6" fill="none"/>
<path d="M55 682.4H132" stroke="#222" stroke-width="1.1" fill="none"/>
<path d="M131.5 683.6 C159.6 683.5 238.6 683.2 300 683 C361.4 682.8 444.7 682.6 500 682.4 C555.3 682.2 602.5 682.1 632 682 C661.5 681.9 662.3 682 677 681.9 C691.7 681.8 706.2 681.9 720 681.5 C733.8 681.1 748.1 680.9 760 679.8 C771.9 678.7 780.6 677.4 791.2 675 C801.9 672.6 814.4 669.2 823.8 665.6 C833.1 662 840.4 657.7 847.5 653.1 C854.6 648.5 861.2 642.3 866.2 638.1 C871.2 633.9 875.6 629.5 877.5 627.8" stroke="#000" stroke-width="2.2" fill="none"/>
<path d="M131.5 683 C159.6 682.9 238.6 682.5 300 682.3 C361.4 682.1 444.7 681.9 500 681.7 C555.3 681.5 602.5 681.4 632 681.3 C661.5 681.2 662.3 681.4 677 681.2 C691.7 681.1 706.2 680.9 720 680.4 C733.8 679.9 748.1 679.4 760 678.1 C771.9 676.8 780.6 675.3 791.2 672.5 C801.9 669.7 814.4 665.3 823.8 661.2 C833.1 657.2 840.4 652.7 847.5 648.1 C854.6 643.5 861.2 638 866.2 633.8 C871.2 629.5 875.6 624.4 877.5 622.5" stroke="#000" stroke-width="3.6" fill="none"/>
<path d="M73.8 687.2 C94.8 687.2 173 687 200 686.9 C227 686.8 228 686.5 236 686.4 C244 686.3 243.7 686.7 248 686.2 C252.3 685.7 257.5 684.6 262 683.6 C266.5 682.6 271.1 681.3 275 680.3 C278.9 679.3 283.6 677.9 285.3 677.4" stroke="#000" stroke-width="2.4" fill="none"/>
<path d="M55 520.5H959" stroke="#000" stroke-width="1" fill="none"/>
<path d="M55 520V688.2" stroke="#000" stroke-width="1.8" fill="none"/>
<path d="M959 520V688.2" stroke="#000" stroke-width="2" fill="none"/>
<path d="M48 576H55M959 576H966.3M48 631.7H55M959 631.7H966.3M48 687.4H55M959 687.4H966.3M959 520.7H966.3" stroke="#000" stroke-width="1.5" fill="none"/>
<circle cx="677" cy="604.6" r="6.1" fill="#ff0000"/>
<circle cx="677" cy="614.75" r="6.1" fill="#ff0000"/>
<circle cx="677" cy="681.25" r="6.1" fill="#ff0000"/>
</svg>
<div class="t" style="top:381px;right:981.4px;">0</div>
<div class="t" style="top:345px;right:981.4px;">2</div>
<div class="t" style="top:309px;right:981.4px;">4</div>
<div class="t" style="top:274px;right:981.4px;">6</div>
<div class="t" style="top:239px;right:981.4px;">8</div>
<div class="t" style="top:203px;right:981.4px;">10</div>
<div class="t" style="top:167px;right:981.4px;">12</div>
<div class="t" style="top:132px;right:981.4px;">14</div>
<div class="t" style="top:97px;right:981.4px;">16</div>
<div class="t" style="top:61px;right:981.4px;">18</div>
<div class="t" style="top:0px;left:34.7px;width:200px;margin-left:-100px;text-align:center;">H</div>
<div class="t" style="top:20px;left:34.4px;width:200px;margin-left:-100px;text-align:center;">[m]</div>
<div class="t" style="top:381px;left:971px;">0</div>
<div class="t" style="top:345px;left:971px;">10</div>
<div class="t" style="top:309px;left:971px;">20</div>
<div class="t" style="top:274px;left:971px;">30</div>
<div class="t" style="top:239px;left:971px;">40</div>
<div class="t" style="top:203px;left:971px;">50</div>
<div class="t" style="top:167px;left:971px;">60</div>
<div class="t" style="top:132px;left:971px;">70</div>
<div class="t" style="top:0px;left:979px;width:200px;margin-left:-100px;text-align:center;">eta</div>
<div class="t" style="top:20px;left:978.5px;width:200px;margin-left:-100px;text-align:center;">[%]</div>
<div class="t" style="top:398px;left:55px;width:200px;margin-left:-100px;text-align:center;">0</div>
<div class="t" style="top:398px;left:124.8px;width:200px;margin-left:-100px;text-align:center;">1</div>
<div class="t" style="top:398px;left:194.7px;width:200px;margin-left:-100px;text-align:center;">2</div>
<div class="t" style="top:398px;left:264.5px;width:200px;margin-left:-100px;text-align:center;">3</div>
<div class="t" style="top:398px;left:334.3px;width:200px;margin-left:-100px;text-align:center;">4</div>
<div class="t" style="top:398px;left:404.1px;width:200px;margin-left:-100px;text-align:center;">5</div>
<div class="t" style="top:398px;left:474px;width:200px;margin-left:-100px;text-align:center;">6</div>
<div class="t" style="top:398px;left:543.8px;width:200px;margin-left:-100px;text-align:center;">7</div>
<div class="t" style="top:398px;left:613.6px;width:200px;margin-left:-100px;text-align:center;">8</div>
<div class="t" style="top:398px;left:683.5px;width:200px;margin-left:-100px;text-align:center;">9</div>
<div class="t" style="top:398px;left:753.3px;width:200px;margin-left:-100px;text-align:center;">10</div>
<div class="t" style="top:398px;left:823.1px;width:200px;margin-left:-100px;text-align:center;">11</div>
<div class="t" style="top:398px;left:888px;">Q [m³/h]</div>
<div class="t" style="top:59px;letter-spacing:-0.485px;left:85px;">110 %</div>
<div class="t" style="top:112px;letter-spacing:-0.900px;left:83.2px;">100 %</div>
<div class="t" style="top:111px;letter-spacing:-0.900px;left:86px;">100 %</div>
<div class="t" style="top:349px;letter-spacing:-0.516px;left:62.8px;">25 %</div>
<div class="t" style="top:4px;letter-spacing:-0.224px;left:747.3px;">NKE 32-250/206, 3*400 V</div>
<div class="t" style="top:431px;letter-spacing:0.059px;left:58px;">Q = 8.9 m³/h</div>
<div class="t" style="top:452px;letter-spacing:-0.127px;left:58px;">n = 100 % / 1449 rpm</div>
<div class="t" style="top:474px;letter-spacing:-0.031px;left:58px;">Liquid temperature during operation = 20 °C</div>
<div class="t" style="top:495px;letter-spacing:-0.206px;left:58px;">Eta pump = 42 %</div>
<div class="t" style="top:431px;letter-spacing:0.049px;left:442.8px;">H = 11.4 m</div>
<div class="t" style="top:452px;letter-spacing:-0.056px;left:442.8px;">Pumped liquid = Water</div>
<div class="t" style="top:474px;letter-spacing:0.069px;left:442.8px;">Density = 998.2 kg/m³</div>
<div class="t" style="top:495px;letter-spacing:-0.050px;left:442.8px;">Eta pump+motor+freq.converter = 37 %</div>
<div class="t" style="top:520px;left:27.7px;width:200px;margin-left:-100px;text-align:center;">P</div>
<div class="t" style="top:540px;left:27.7px;width:200px;margin-left:-100px;text-align:center;">[W]</div>
<div class="t" style="top:566px;right:981.6px;">1000</div>
<div class="t" style="top:622px;right:981.6px;">500</div>
<div class="t" style="top:677px;right:981.8px;">0</div>
<div class="t" style="top:520px;left:991px;width:200px;margin-left:-100px;text-align:center;">NPSH</div>
<div class="t" style="top:540px;left:990.3px;width:200px;margin-left:-100px;text-align:center;">[m]</div>
<div class="t" style="top:566px;left:971px;">10</div>
<div class="t" style="top:622px;left:971px;">5</div>
<div class="t" style="top:677px;left:971px;">0</div>
<div class="t" style="top:567px;letter-spacing:-0.020px;left:751.6px;color:#1d5a9b;">P1 (motor+freq.converter)</div>
<div class="t" style="top:605px;left:865px;color:#1d5a9b;">P2</div>
<div class="t" style="top:701px;letter-spacing:0.021px;left:57.9px;">P1 (motor+freq.converter) = 745.9 W</div>
<div class="t" style="top:723px;letter-spacing:-0.098px;left:57.9px;">P2 = 656.1 W</div>
<div class="t" style="top:744px;letter-spacing:-0.148px;left:57.9px;">NPSH = 0.58 m</div>
</body>
</html>
